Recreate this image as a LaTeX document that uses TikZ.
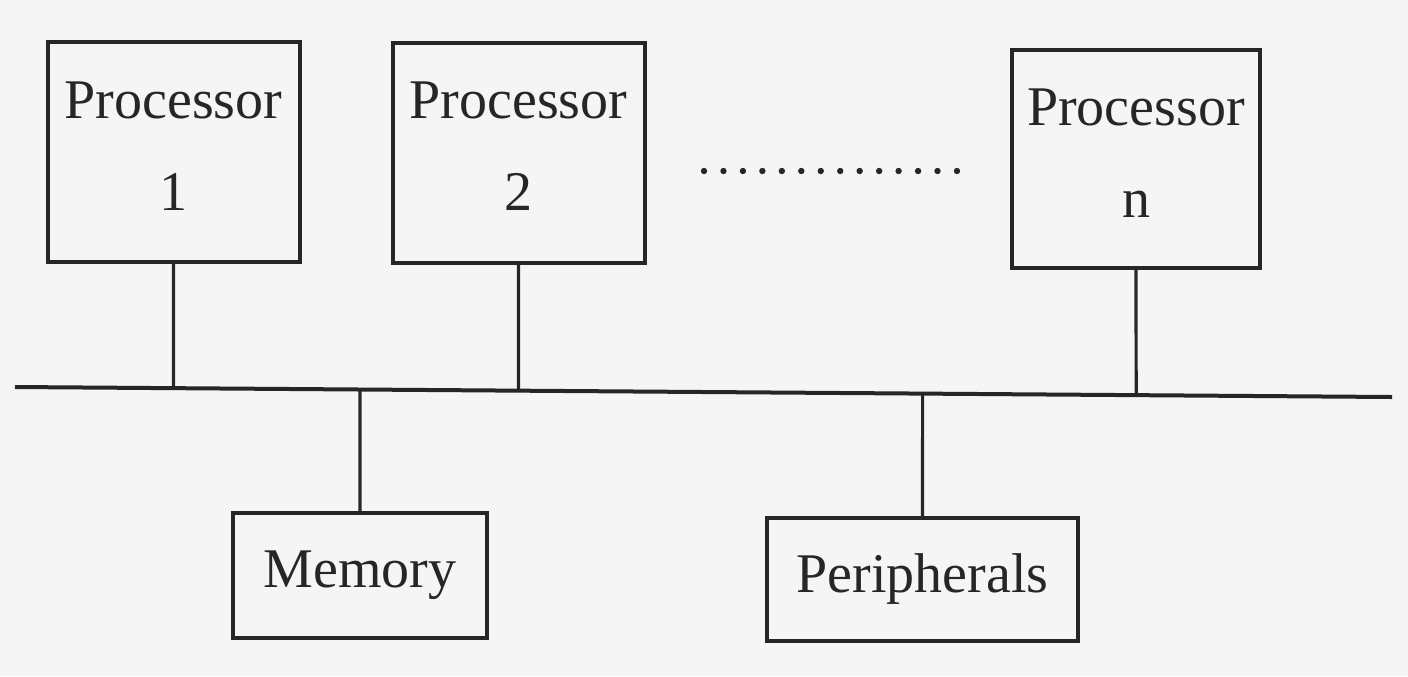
\documentclass[tikz,border=0pt]{standalone}
\usepackage{fontspec}
\setmainfont{Liberation Serif}
\definecolor{ink}{HTML}{262626}
\definecolor{paper}{HTML}{F5F5F5}
\tikzset{
  unit/.style={draw=ink, line width=2pt, text=ink, align=center, inner sep=0pt,
    font=\fontsize{28}{46}\selectfont},
  proc/.style={unit, minimum width=126pt, minimum height=110pt, text depth=6pt},
  wire/.style={draw=ink, line width=1.6pt},
  busline/.style={draw=ink, line width=2pt},
}
\begin{document}
\begin{tikzpicture}[x=0.5pt, y=-0.5pt]
  \fill[paper] (0,0) rectangle (1408,676);
  \useasboundingbox (0,0) rectangle (1408,676);

  \node[proc] (p1) at (173.5,152) {Processor\\1};
  \node[proc] (p2) at (518.5,152.5) {Processor\\2};
  \node[proc, minimum width=124pt, minimum height=109pt] (pn) at (1136,159) {Processor\\n};
  \node[unit, minimum width=127pt, minimum height=62.5pt] (mem) at (360,575.5) {Memory};
  \node[unit, minimum width=155.5pt, minimum height=61.5pt] (per) at (922.5,579.5) {Peripherals};

  \coordinate (busL) at (15,387);
  \coordinate (busR) at (1392,397);
  \draw[busline] (busL) -- (busR);

  \draw[wire] (p1.south) -- (intersection of p1.south--p1.center and busL--busR);
  \draw[wire] (p2.south) -- (intersection of p2.south--p2.center and busL--busR);
  \draw[wire] (pn.south) -- (intersection of pn.south--pn.center and busL--busR);
  \draw[wire] (mem.north) -- (intersection of mem.north--mem.center and busL--busR);
  \draw[wire] (per.north) -- (intersection of per.north--per.center and busL--busR);

  \foreach \i in {0,...,13}
    \fill[ink] (704+\i*19.46,171) circle (3.2);
\end{tikzpicture}
\end{document}
